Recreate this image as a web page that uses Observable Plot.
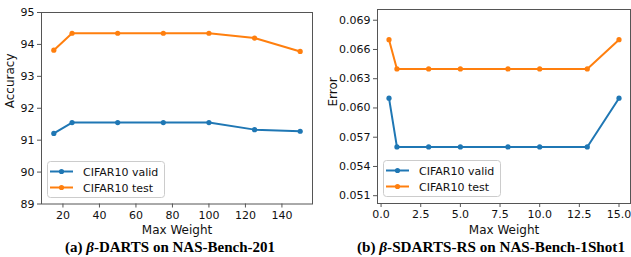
<!DOCTYPE html>
<html><head><meta charset="utf-8">
<script src="https://cdn.jsdelivr.net/npm/d3@7"></script>
<script src="https://cdn.jsdelivr.net/npm/@observablehq/plot@0.6"></script>
<style>
html,body{margin:0;padding:0;background:#fff;}
#wrap{position:relative;width:631px;height:257px;overflow:hidden;}
#wrap svg{position:absolute;top:0;}
</style></head>
<body><div id="wrap"></div>
<script>
// Data
const seriesNames = ["CIFAR10 valid", "CIFAR10 test"];
const colors = ["#1f77b4", "#ff7f0e"];

const leftX = [15, 25, 50, 75, 100, 125, 150];
const leftValid = [91.21, 91.55, 91.55, 91.55, 91.55, 91.33, 91.28];
const leftTest = [93.82, 94.35, 94.35, 94.35, 94.35, 94.20, 93.78];
const leftXTicks = [20, 40, 60, 80, 100, 120, 140];
const leftYTicks = [89, 90, 91, 92, 93, 94, 95];

const rightX = [0.5, 1, 3, 5, 8, 10, 13, 15];
const rightValid = [0.061, 0.056, 0.056, 0.056, 0.056, 0.056, 0.056, 0.061];
const rightTest = [0.067, 0.064, 0.064, 0.064, 0.064, 0.064, 0.064, 0.067];
const rightXTicks = [0, 2.5, 5, 7.5, 10, 12.5, 15];
const rightYTicks = [0.051, 0.054, 0.057, 0.060, 0.063, 0.066, 0.069];

const captions = [
  ["(a) ", "β", "-DARTS on NAS-Bench-201"],
  ["(b) ", "β", "-SDARTS-RS on NAS-Bench-1Shot1"]
];

function panel(o) {
  const rows = [];
  o.xs.forEach((x, i) => {
    rows.push({x, y: o.valid[i], s: seriesNames[0]});
    rows.push({x, y: o.test[i], s: seriesNames[1]});
  });
  const svg = Plot.plot({
    width: o.width, height: 257,
    marginLeft: o.mL, marginRight: o.mR, marginTop: o.mT, marginBottom: o.mB,
    style: {fontFamily: "DejaVu Sans", fontSize: "11px", color: "#111", background: "transparent", overflow: "visible"},
    x: {domain: o.xDomain},
    y: {domain: o.yDomain},
    color: {domain: seriesNames, range: colors},
    marks: [
      Plot.line(rows, {x: "x", y: "y", z: "s", stroke: "s", strokeWidth: 2}),
      Plot.dot(rows, {x: "x", y: "y", fill: "s", r: 2.6}),
      Plot.frame({stroke: "#555", strokeWidth: 1}),
      Plot.axisX(o.xTicks, {tickSize: 4, tickPadding: 3, tickFormat: o.xFmt, label: null, stroke: "#555", fontSize: 11}),
      Plot.axisY(o.yTicks, {tickSize: 4, tickPadding: 3, tickFormat: o.yFmt, label: null, stroke: "#555", fontSize: 11}),
      Plot.text(["Max Weight"], {frameAnchor: "bottom", dy: 30, fontSize: 12, fill: "#111"}),
      Plot.text([o.ylabel], {frameAnchor: "left", dx: o.ylabelDx, rotate: -90, fontSize: 12, fill: "#111"})
    ]
  });
  svg.style.left = o.left + "px";
  return svg;
}

const wrap = document.getElementById("wrap");
wrap.appendChild(panel({
  xs: leftX, valid: leftValid, test: leftTest,
  xDomain: [8.25, 156.75], yDomain: [89, 95],
  xTicks: leftXTicks, yTicks: leftYTicks,
  xFmt: d => String(d), yFmt: d => String(d),
  ylabel: "Accuracy", ylabelDx: -31,
  width: 316, left: 0, mL: 41, mR: 4, mT: 12, mB: 53.5
}));
wrap.appendChild(panel({
  xs: rightX, valid: rightValid, test: rightTest,
  xDomain: [-0.225, 15.725], yDomain: [0.0502, 0.0701],
  xTicks: rightXTicks, yTicks: rightYTicks,
  xFmt: d => d.toFixed(1), yFmt: d => d.toFixed(3),
  ylabel: "Error", ylabelDx: -44,
  width: 315, left: 316, mL: 61, mR: 1, mT: 9, mB: 54
}));

// Overlay: legends and captions
const ov = d3.create("svg").attr("width", 631).attr("height", 257).style("left", "0px")
  .attr("font-family", "DejaVu Sans");
[[47, 161], [383, 160]].forEach(([bx, by]) => {
  const g = ov.append("g").attr("transform", `translate(${bx},${by})`);
  g.append("rect").attr("x", 0.5).attr("y", 0.5).attr("width", 117).attr("height", 36)
    .attr("rx", 3).attr("fill", "#fff").attr("fill-opacity", 0.8).attr("stroke", "#ccc");
  seriesNames.forEach((name, i) => {
    const y = 10.5 + i * 16;
    g.append("line").attr("x1", 3).attr("x2", 26).attr("y1", y).attr("y2", y)
      .attr("stroke", colors[i]).attr("stroke-width", 2);
    g.append("circle").attr("cx", 14.5).attr("cy", y).attr("r", 2.6).attr("fill", colors[i]);
    g.append("text").attr("x", 36).attr("y", y + 4).attr("font-size", 11).attr("fill", "#111").text(name);
  });
});
[[170, 210], [491, 268]].forEach(([cx, len], i) => {
  const t = ov.append("text").attr("x", cx).attr("y", 252).attr("text-anchor", "middle")
    .attr("font-family", "Liberation Serif").attr("font-weight", "bold").attr("font-size", 14)
    .attr("textLength", len).attr("lengthAdjust", "spacingAndGlyphs");
  t.append("tspan").text(captions[i][0]);
  t.append("tspan").attr("font-style", "italic").text(captions[i][1]);
  t.append("tspan").text(captions[i][2]);
});
wrap.appendChild(ov.node());
</script></body></html>
